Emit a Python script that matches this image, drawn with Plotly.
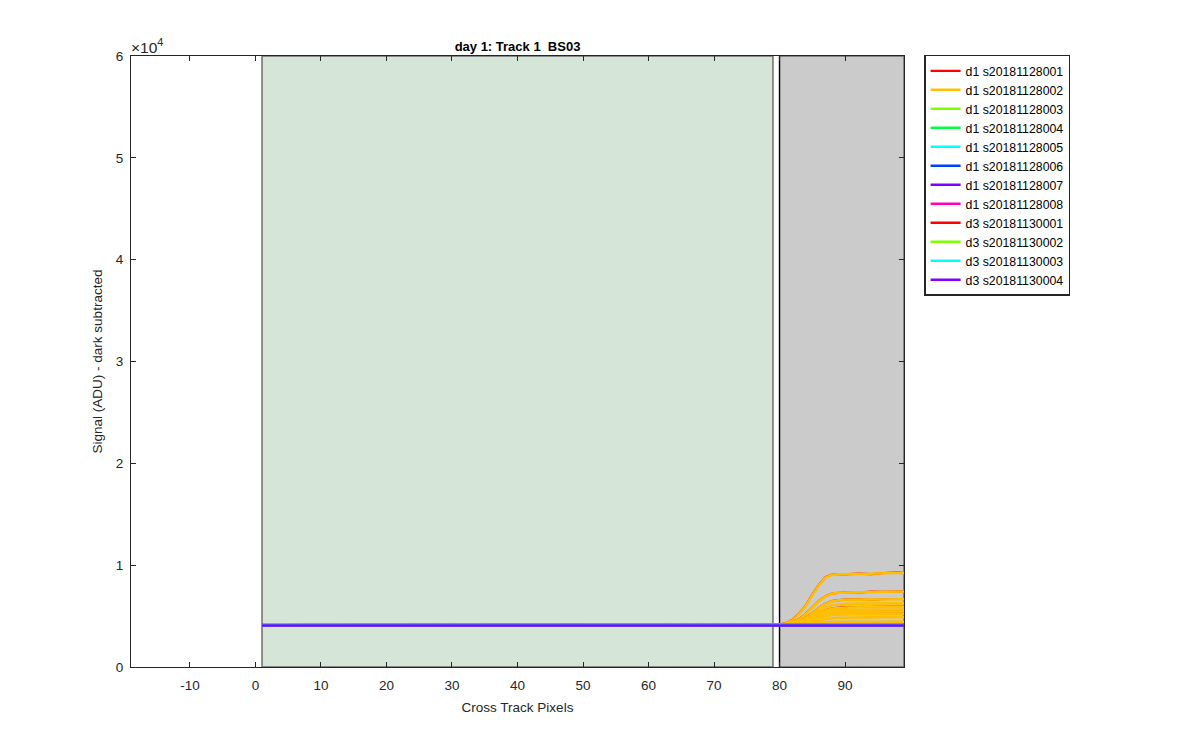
import plotly.graph_objects as go

# ---------------- data ----------------
legend_names = ["d1 s20181128001", "d1 s20181128002", "d1 s20181128003", "d1 s20181128004",
                "d1 s20181128005", "d1 s20181128006", "d1 s20181128007", "d1 s20181128008",
                "d3 s20181130001", "d3 s20181130002", "d3 s20181130003", "d3 s20181130004"]
series_colors = ["#FF0000", "#FFBF00", "#80FF00", "#00FF40", "#00FFFF", "#0040FF",
                 "#8000FF", "#FF00BF", "#FF0000", "#80FF00", "#00FFFF", "#8000FF"]

x_rise = [1, 79, 80, 81, 82, 83, 84, 85, 86, 87, 88, 89, 90, 92, 94, 96, 98, 99]
x_flat = [1, 99]

# red group (d1 s20181128001)
red_lines = [
    [4100, 4100, 4160, 4320, 4650, 5260, 6030, 7100, 8060, 8820, 9080, 9120, 9090, 9160, 9130, 9230, 9290, 9220],
    [4100, 4100, 4140, 4220, 4390, 4720, 5220, 5850, 6500, 6960, 7220, 7280, 7350, 7310, 7400, 7380, 7460, 7440],
    [4100, 4100, 4130, 4190, 4300, 4510, 4840, 5300, 5810, 6210, 6470, 6560, 6620, 6640, 6600, 6680, 6660, 6680],
    [4100, 4100, 4120, 4160, 4250, 4390, 4620, 4940, 5290, 5560, 5750, 5830, 5870, 5890, 5900, 5920, 5930, 5920],
    [4100, 4100, 4120, 4150, 4220, 4330, 4500, 4740, 5000, 5200, 5340, 5400, 5430, 5440, 5460, 5470, 5480, 5470],
]
# orange group (d1 s20181128002)
orange_lines = [
    [4100, 4100, 4150, 4300, 4610, 5220, 5990, 7060, 8030, 8790, 9050, 9100, 9100, 9130, 9150, 9200, 9250, 9200],
    [4100, 4100, 4130, 4200, 4360, 4690, 5190, 5820, 6480, 6940, 7200, 7300, 7330, 7330, 7370, 7400, 7430, 7420],
    [4100, 4100, 4120, 4180, 4280, 4480, 4810, 5270, 5780, 6190, 6450, 6550, 6600, 6620, 6620, 6650, 6650, 6660],
    [4100, 4100, 4120, 4160, 4250, 4420, 4700, 5080, 5500, 5840, 6060, 6150, 6200, 6220, 6230, 6250, 6260, 6250],
    [4100, 4100, 4110, 4150, 4230, 4370, 4600, 4910, 5260, 5540, 5730, 5810, 5850, 5870, 5880, 5900, 5910, 5900],
    [4100, 4100, 4110, 4140, 4210, 4330, 4530, 4800, 5100, 5340, 5500, 5570, 5610, 5620, 5640, 5650, 5660, 5650],
    [4100, 4100, 4110, 4140, 4200, 4310, 4480, 4710, 4970, 5180, 5320, 5380, 5410, 5420, 5440, 5450, 5460, 5450],
    [4100, 4100, 4110, 4130, 4180, 4270, 4410, 4600, 4810, 4980, 5100, 5150, 5170, 5180, 5190, 5200, 5210, 5200],
    [4100, 4100, 4105, 4120, 4150, 4210, 4310, 4440, 4590, 4710, 4790, 4830, 4850, 4860, 4870, 4880, 4880, 4880],
    [4100, 4100, 4100, 4110, 4130, 4160, 4210, 4280, 4350, 4400, 4430, 4440, 4450, 4450, 4450, 4450, 4460, 4450],
]
# flat series (d1 003 .. d3 004)
flat_values = [4090, 4090, 4090, 4090, 4080, 4150, 4090, 4090, 4090, 4070]

x_range = [-19, 99]
y_range = [0, 60000]
x_ticks = [-10, 0, 10, 20, 30, 40, 50, 60, 70, 80, 90]
x_ticktext = ["-10", "0", "10", "20", "30", "40", "50", "60", "70", "80", "90"]
y_ticks = [0, 10000, 20000, 30000, 40000, 50000, 60000]
y_ticktext = ["0", "1", "2", "3", "4", "5", "6"]
green_span = [1, 79]
gray_span = [80, 99]

FONT = "Liberation Sans, Arial, Helvetica, sans-serif"
AX = "#262626"

fig = go.Figure()

for i, ys in enumerate(red_lines):
    fig.add_trace(go.Scatter(x=x_rise, y=ys, mode="lines", name=legend_names[0],
                             legendgroup="g0", showlegend=(i == 0),
                             line=dict(color=series_colors[0], width=2.2)))
for i, ys in enumerate(orange_lines):
    fig.add_trace(go.Scatter(x=x_rise, y=ys, mode="lines", name=legend_names[1],
                             legendgroup="g1", showlegend=(i == 0),
                             line=dict(color=series_colors[1], width=2.6)))
for k, v in enumerate(flat_values):
    idx = k + 2
    fig.add_trace(go.Scatter(x=x_flat, y=[v, v], mode="lines", name=legend_names[idx],
                             legendgroup="g%d" % idx,
                             line=dict(color=series_colors[idx], width=2.5)))

# background regions
fig.add_shape(type="rect", xref="x", yref="y", x0=green_span[0], x1=green_span[1],
              y0=y_range[0], y1=y_range[1], fillcolor="#D5E6D9",
              line=dict(color="#6E6E6E", width=1.5), layer="below")
fig.add_shape(type="rect", xref="x", yref="y", x0=gray_span[0], x1=gray_span[1],
              y0=y_range[0], y1=y_range[1], fillcolor="#CBCBCB",
              line=dict(color="#6E6E6E", width=1.5), layer="below")
fig.add_shape(type="line", xref="x", yref="y", x0=gray_span[0], x1=gray_span[0],
              y0=y_range[0], y1=y_range[1], line=dict(color="#000000", width=1.2), layer="below")

fig.add_annotation(xref="paper", yref="paper", x=0, y=1, xanchor="left", yanchor="bottom",
                   text="\u00d710<sup>4</sup>", showarrow=False,
                   font=dict(family=FONT, size=15.5, color=AX), yshift=-2, xshift=-2)

fig.update_layout(
    width=1200, height=750,
    margin=dict(l=123, r=304, t=48, b=91),
    paper_bgcolor="white", plot_bgcolor="white",
    font=dict(family=FONT, size=13, color=AX),
    title=dict(text="<b>day 1: Track 1 \u00a0BS03</b>", x=0.5, xref="paper", xanchor="center",
               y=1, yref="paper", yanchor="bottom", pad=dict(b=5),
               font=dict(family=FONT, size=13, color="#000000")),
    showlegend=True,
    legend=dict(x=1.026, y=1.002, xanchor="left", yanchor="top",
                bordercolor=AX, borderwidth=1.5, bgcolor="white",
                font=dict(family=FONT, size=12.3, color="#000000"),
                tracegroupgap=0),
    xaxis=dict(range=x_range, tickvals=x_ticks, ticktext=x_ticktext, ticks="inside", ticklen=5,
               tickcolor=AX, showline=True, linecolor=AX, linewidth=1, mirror="ticks",
               showgrid=False, zeroline=False, ticklabelstandoff=6,
               title=dict(text="Cross Track Pixels", font=dict(size=13.5), standoff=10),
               tickfont=dict(size=13.5)),
    yaxis=dict(range=y_range, tickvals=y_ticks, ticktext=y_ticktext, ticks="inside", ticklen=5,
               tickcolor=AX, showline=True, linecolor=AX, linewidth=1, mirror="ticks",
               showgrid=False, zeroline=False, ticklabelstandoff=4,
               title=dict(text="Signal (ADU) - dark subtracted", font=dict(size=13.5), standoff=10),
               tickfont=dict(size=13.5)),
)

fig.write_html("out.html")
